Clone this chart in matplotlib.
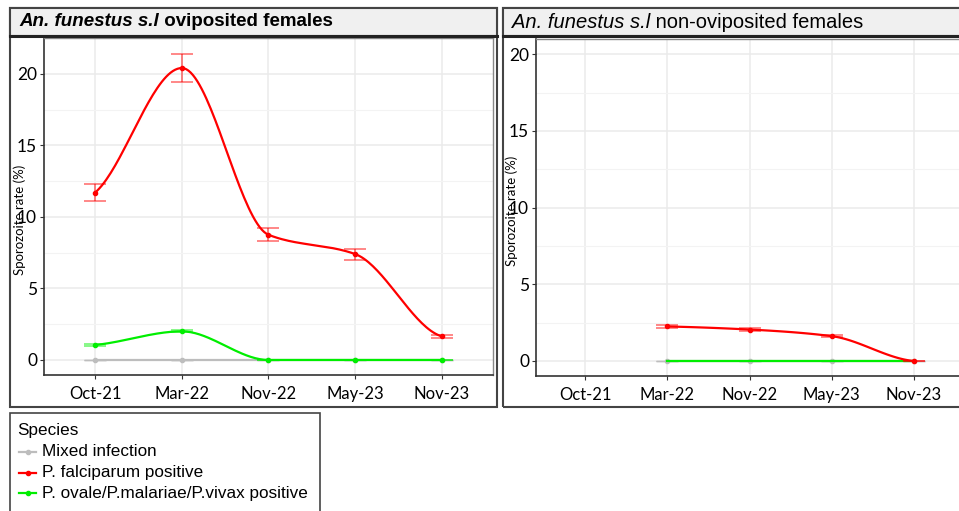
import numpy as np
import matplotlib
matplotlib.use("Agg")
import matplotlib.pyplot as plt
from matplotlib.patches import Rectangle
from matplotlib.lines import Line2D

# survey rounds and sporozoite rates (%) with error bar bounds
rounds = ["Oct-21", "Mar-22", "Nov-22", "May-23", "Nov-23"]

ovi_falc = [11.7, 20.4, 8.75, 7.4, 1.65]
ovi_falc_lo = [11.1, 19.4, 8.3, 7.0, 1.55]
ovi_falc_hi = [12.3, 21.4, 9.2, 7.75, 1.75]
ovi_other = [1.05, 2.0, 0.0, 0.0, 0.0]
ovi_other_lo = [1.0, 1.93, 0.0, 0.0, 0.0]
ovi_other_hi = [1.1, 2.07, 0.0, 0.0, 0.0]
ovi_mixed = [0.0, 0.0, 0.0, 0.0, 0.0]

# non-oviposited: no samples in Oct-21
non_rounds = ["Mar-22", "Nov-22", "May-23", "Nov-23"]
non_falc = [2.25, 2.05, 1.62, 0.0]
non_falc_lo = [2.15, 1.97, 1.55, 0.0]
non_falc_hi = [2.35, 2.13, 1.69, 0.0]
non_other = [0.0, 0.0, 0.0, 0.0]
non_mixed = [0.0, 0.0, 0.0, 0.0]

species = ["Mixed infection", "P. falciparum positive",
           "P. ovale/P.malariae/P.vivax positive"]
colors = ["#bdbdbd", "#ff0000", "#00ee00"]

W, H = 959, 511
fig = plt.figure(figsize=(W / 100, H / 100), dpi=100)
sans = "Liberation Sans"
tickfont = "Lato"


def px(x0, y0, w, h):
    return [x0 / W, 1 - (y0 + h) / H, w / W, h / H]


def pchip(x, y, n=40):
    # monotone cubic curve through the points
    x = np.asarray(x, float)
    y = np.asarray(y, float)
    h = np.diff(x)
    delta = np.diff(y) / h
    d = np.zeros_like(y)
    for k in range(1, len(x) - 1):
        if delta[k - 1] * delta[k] > 0:
            w1 = 2 * h[k] + h[k - 1]
            w2 = h[k] + 2 * h[k - 1]
            d[k] = (w1 + w2) / (w1 / delta[k - 1] + w2 / delta[k])
    d[0] = 0.6 * delta[0]
    d[-1] = 0.3 * delta[-1]
    xs, ys = [], []
    for k in range(len(x) - 1):
        t = np.linspace(0, 1, n)
        h00 = 2 * t**3 - 3 * t**2 + 1
        h10 = t**3 - 2 * t**2 + t
        h01 = -2 * t**3 + 3 * t**2
        h11 = t**3 - t**2
        xs.append(x[k] + t * h[k])
        ys.append(h00 * y[k] + h10 * h[k] * d[k] + h01 * y[k + 1] + h11 * h[k] * d[k + 1])
    return np.concatenate(xs), np.concatenate(ys)


def series(ax, xpos, vals, lo, hi, color, z):
    xs, ys = pchip(xpos, vals)
    ax.plot(xs, ys, color=color, lw=1.6, zorder=z)
    v = np.array(vals)
    ax.errorbar(xpos, vals, yerr=[v - np.array(lo), np.array(hi) - v], fmt="none",
                ecolor=color, alpha=0.55, elinewidth=1.2, capsize=8, capthick=1.2, zorder=z)
    ax.plot(xpos, vals, "o", color=color, ms=3, zorder=z + 0.5)


def style(ax, ylim, xlim):
    ax.set_xlim(*xlim)
    ax.set_ylim(*ylim)
    ax.set_xticks(range(1, len(rounds) + 1))
    ax.set_xticklabels(rounds, fontfamily=tickfont, fontsize=12)
    ax.set_yticks([0, 5, 10, 15, 20])
    ax.set_yticklabels(["0", "5", "10", "15", "20"], fontfamily=tickfont, fontsize=12.5)
    ax.set_yticks([2.5, 7.5, 12.5, 17.5], minor=True)
    ax.grid(True, which="major", color="#ebebeb", lw=1.1)
    ax.grid(True, which="minor", axis="y", color="#f3f3f3", lw=0.8)
    ax.set_axisbelow(True)
    ax.tick_params(axis="both", which="major", length=3, color="#333333", pad=2)
    ax.tick_params(axis="x", pad=5)
    ax.tick_params(which="minor", length=0)
    for s in ["left", "bottom"]:
        ax.spines[s].set_color("#333333")
        ax.spines[s].set_linewidth(1.2)
    for s in ["top", "right"]:
        ax.spines[s].set_color("#888888")
        ax.spines[s].set_linewidth(1.0)


def panel_frame(x0, x1, title_parts, size):
    fig.patches.append(Rectangle((x0 / W, 1 - 407 / H), (x1 - x0) / W, 399 / H,
                                 transform=fig.transFigure, fill=False,
                                 edgecolor="#444444", lw=1.5, zorder=0))
    fig.patches.append(Rectangle((x0 / W, 1 - 36 / H), (x1 - x0) / W, 28 / H,
                                 transform=fig.transFigure, facecolor="#f0f0f0",
                                 edgecolor="#444444", lw=1.5, zorder=0))
    fig.add_artist(Line2D([x0 / W, x1 / W], [1 - 36 / H, 1 - 36 / H],
                          color="#222222", lw=2.2))
    renderer = fig.canvas.get_renderer()
    xcur = (x0 + 9) / W
    for text, style_, weight in title_parts:
        t = fig.text(xcur, 1 - 22 / H, text, fontfamily=sans, fontsize=size,
                     fontstyle=style_, fontweight=weight, va="center", ha="left")
        bb = t.get_window_extent(renderer)
        xcur = bb.x1 / W


# left panel: oviposited
panel_frame(10, 497, [("An. funestus s.l", "italic", "bold"),
                      (" oviposited females", "normal", "bold")], 13.5)
ax1 = fig.add_axes(px(44, 38, 449, 337))
pos = np.arange(1, len(rounds) + 1)
ax1.errorbar(pos, ovi_mixed, yerr=0, fmt="none", ecolor=colors[0], capsize=8, zorder=2)
ax1.plot(pos, ovi_mixed, color=colors[0], lw=1.6, marker="o", ms=3, zorder=2)
series(ax1, pos, ovi_other, ovi_other_lo, ovi_other_hi, colors[2], 3)
series(ax1, pos, ovi_falc, ovi_falc_lo, ovi_falc_hi, colors[1], 4)
style(ax1, (-1.05, 22.5), (0.41, 5.59))
fig.text(20 / W, 1 - 220 / H, "Sporozoite rate (%)", rotation=90, fontfamily=tickfont,
         fontsize=9.5, va="center", ha="center")

# right panel: non-oviposited
panel_frame(503, 975, [("An. funestus s.l", "italic", "normal"),
                       (" non-oviposited females", "normal", "normal")], 14.5)
ax2 = fig.add_axes(px(536, 39, 427, 337))
npos = np.array([rounds.index(r) + 1 for r in non_rounds])
ax2.errorbar(npos, non_mixed, yerr=0, fmt="none", ecolor=colors[0], capsize=8, zorder=2)
ax2.plot(npos, non_mixed, color=colors[0], lw=1.6, marker="o", ms=3, zorder=2)
ax2.plot(npos, non_other, color=colors[2], lw=1.6, zorder=3)
series(ax2, npos, non_falc, non_falc_lo, non_falc_hi, colors[1], 4)
style(ax2, (-0.98, 21.0), (0.4, 5.6))
fig.text(512 / W, 1 - 211 / H, "Sporozoite rate (%)", rotation=90, fontfamily=tickfont,
         fontsize=9.5, va="center", ha="center")

# legend box
fig.patches.append(Rectangle((10 / W, 1 - 530 / H), 310 / W, 117 / H,
                             transform=fig.transFigure, fill=False,
                             edgecolor="#444444", lw=1.2))
fig.text(17 / W, 1 - 430 / H, "Species", fontfamily=sans, fontsize=12.3, va="center")
for i, (name, c) in enumerate(zip(species, colors)):
    y = 1 - (452 + i * 20.5) / H
    fig.add_artist(Line2D([19 / W, 36 / W], [y, y], color=c, lw=1.6))
    fig.add_artist(Line2D([27.5 / W], [y], color=c, marker="o", ms=3))
    fig.text(42 / W, y, name, fontfamily=sans, fontsize=12.3, va="center")

fig.savefig("out.png", dpi=100)
